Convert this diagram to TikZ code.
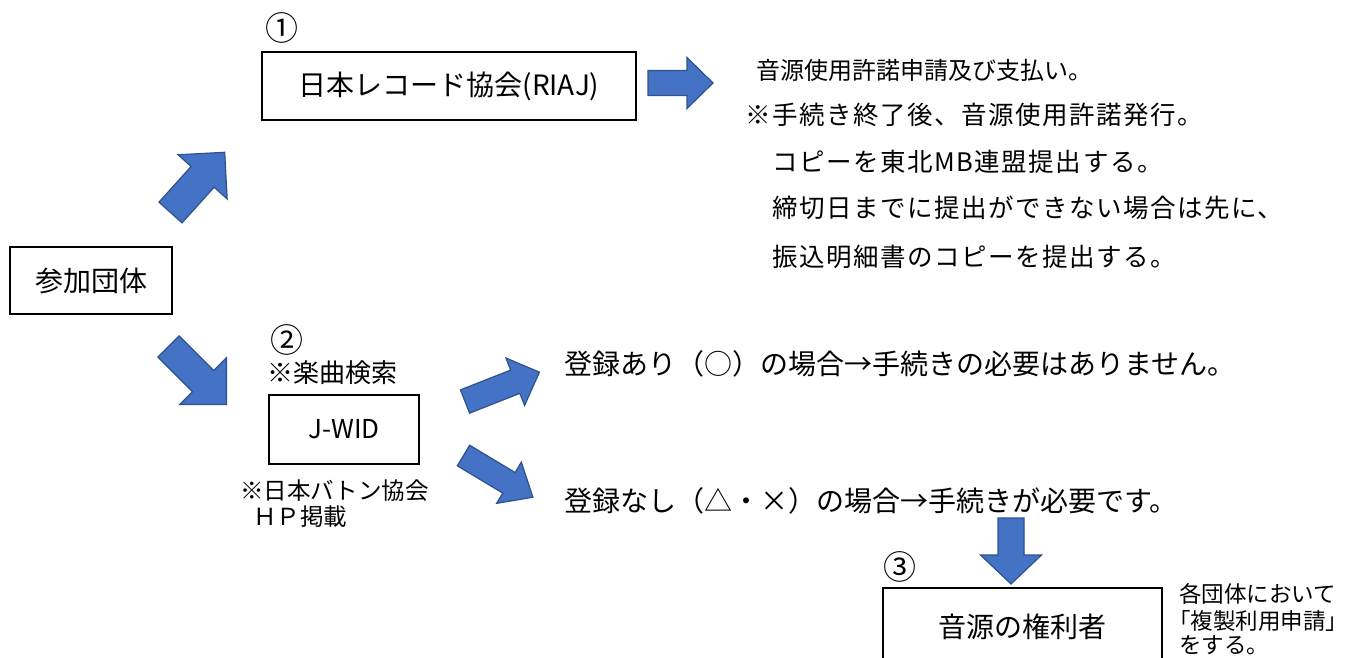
\documentclass[tikz,border=0pt]{standalone}
\usepackage{fontspec}
\setmainfont{Noto Sans CJK JP}
\newfontfamily\minfont{Noto Sans CJK JP}[LetterSpace=6]
\newcommand\myfs[1]{\fontsize{#1}{#1}\selectfont}
\definecolor{arrowblue}{HTML}{4472C4}
\definecolor{arrowedge}{HTML}{2F528F}
\tikzset{
  boxnode/.style={draw=black, line width=1.2pt, inner sep=0pt, font=\myfs{28}},
  txt/.style={anchor=west, inner sep=0pt},
  numnode/.style={inner sep=0pt, font=\myfs{33}},
  barrowstyle/.style={fill=arrowblue, draw=arrowedge, line width=1.2pt, line join=miter},
}
% tail-centre x, y, angle, length, shaft width, head width, head length
\newcommand\bkarrow[7]{%
  \begin{scope}[shift={(#1,#2)},rotate=#3]
    \filldraw[barrowstyle] (0,-#5/2) -- (#4-#7,-#5/2) -- (#4-#7,-#6/2) -- (#4,0)
      -- (#4-#7,#6/2) -- (#4-#7,#5/2) -- (0,#5/2) -- cycle;
  \end{scope}}
\begin{document}
\begin{tikzpicture}[x=1pt,y=-1pt]
\useasboundingbox (0,0) rectangle (1360,657);
\clip (0,0) rectangle (1360,657);
\fill[white] (0,0) rectangle (1360,657);

% boxes
\node[boxnode, minimum width=162pt, minimum height=67pt] (sanka) at (91,280.5) {参加団体};
\node[boxnode, minimum width=374pt, minimum height=68pt] (riaj) at (449,86) {日本レコード協会(RIAJ)};
\node[boxnode, minimum width=150pt, minimum height=69pt, font=\myfs{26}] (jwid) at (344,429.5) {J-WID};
\node[boxnode, minimum width=279pt, minimum height=78pt] (kenri) at (1022.5,627) {音源の権利者};

% numbers
\node[numnode] (n1) at (282,28) {①};
\node[numnode] (n2) at (287,340) {②};
\node[numnode] (n3) at (900,567) {③};

% labels around J-WID
\node[txt, font=\myfs{26}] (kensaku) at (267,373) {※楽曲検索};
\node[txt, font=\myfs{23.5}] (baton) at (240,491) {※日本バトン協会};
\node[txt, font=\myfs{23.5}] (hp) at (253,517) {ＨＰ掲載};

% RIAJ side texts
\node[txt, font=\myfs{24}] (title) at (756,70) {音源使用許諾申請及び支払い。};
\node[txt, font={\minfont\myfs{25.5}}] (m1) at (745,115) {※手続き終了後、音源使用許諾発行。};
\node[txt, font={\minfont\myfs{25.5}}] (m2) at (772,162) {コピーを東北MB連盟提出する。};
\node[txt, font={\minfont\myfs{25.5}}] (m3) at (772,208) {締切日までに提出ができない場合は先に、};
\node[txt, font={\minfont\myfs{25.5}}] (m4) at (772,257) {振込明細書のコピーを提出する。};

% J-WID results
\node[txt, font=\myfs{28}] (ari) at (564,364) {登録あり（○）の場合→手続きの必要はありません。};
\node[txt, font=\myfs{28}] (nashi) at (564,501) {登録なし（△・×）の場合→手続きが必要です。};

% note right of box 3
\node[txt, font=\myfs{22.5}] (note1) at (1179,594) {各団体において};
\node[txt, font=\myfs{22.5}] (note2) at (1168,621) {「複製利用申請」};
\node[txt, font=\myfs{22.5}] (note3) at (1179,645) {をする。};

% block arrows
\bkarrow{648}{83}{0}{65}{25}{51}{26}
\bkarrow{170.5}{212.5}{48}{81}{31}{66}{33}
\bkarrow{168.5}{346.5}{-45}{82}{30}{66}{33}
\bkarrow{465}{401.5}{21.5}{80}{25}{51}{26}
\bkarrow{463.5}{455.5}{-31}{81}{24}{48}{28}
\bkarrow{1011}{518}{-90}{66}{26}{61}{29}
\end{tikzpicture}
\end{document}
